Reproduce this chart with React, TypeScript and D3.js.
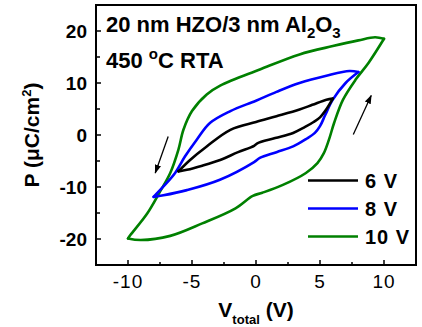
import * as d3 from "d3";

// P-V loops, [V, P] pairs; "up" = sweeping down from +Vmax, "dn" = back up from -Vmax
const loop6Up: [number, number][] = [
  [6, 7], [5.5, 6.8], [4.4, 5.8], [3.4, 4.9], [1.6, 3.6], [0, 2.5], [-2.0, 1.0],
  [-3.85, -2.2], [-5.15, -4.8], [-6.06, -7],
];
const loop6Dn: [number, number][] = [
  [-6.06, -7], [-5.4, -6.7], [-4.2, -5.9], [-2.8, -4.8], [-1.4, -3.3], [-0.15, -2.1],
  [0.1, -1.6], [1.5, -0.6], [2.9, 0.4], [3.8, 1.5], [4.5, 2.5], [5.0, 3.4], [5.4, 4.6], [6, 7],
];
const loop8Up: [number, number][] = [
  [8, 12.1], [7.3, 12.3], [5.5, 11.4], [3.4, 10], [1.6, 8.3], [0, 6.6], [-2.0, 4.6],
  [-3.6, 2.3], [-4.63, -0.9], [-5.54, -4.1], [-6.32, -7.3], [-7.23, -9.9], [-8.0, -11.9],
];
const loop8Dn: [number, number][] = [
  [-8.0, -11.9], [-7.23, -11.6], [-5.4, -10.6], [-2.82, -8.6], [-0.15, -5.2],
  [0.3, -4.4], [1.6, -3.3], [2.9, -2.2], [3.9, -0.8], [4.6, 0.4], [5.0, 1.7], [5.4, 3.8],
  [6, 6.8], [7, 10], [8, 12.1],
];
const loop10Up: [number, number][] = [
  [10, 18.5], [9.3, 18.8], [8, 18.2], [6, 17.1], [3.4, 15.5], [0.3, 12.6], [-2.8, 9.5],
  [-3.85, 7.8], [-5.0, 4.6], [-5.67, 1.0], [-6.06, -2.8], [-6.7, -7.3], [-7.48, -10.8],
  [-8.5, -15.1], [-9.8, -19.2], [-10, -19.9],
];
const loop10Dn: [number, number][] = [
  [-10, -19.9], [-9.0, -20.2], [-6.7, -19.4], [-4.2, -17.0], [-1.6, -14.1], [-0.25, -11.7],
  [0.5, -11.1], [2.1, -9.6], [3.9, -7.3], [4.8, -5.4], [5.3, -3.5], [5.7, -0.9], [6.1, 2.3],
  [6.8, 6.8], [7.8, 10.7], [8.8, 13.9], [10, 18.5],
];

const legendLabels = ["6 V", "8 V", "10 V"];
const legendColors = ["#000000", "#0000ff", "#008000"];
const xTicks = [-10, -5, 0, 5, 10];
const yTicks = [-20, -10, 0, 10, 20];
// sweep-direction arrows, [from, to] in data units
const arrows: [number, number][][] = [
  [[-6.86, -0.3], [-7.87, -7.3]],
  [[7.6, 0.1], [9.0, 7.6]],
];

const W = 422;
const H = 327;
const margin = { top: 5, right: 6, bottom: 62, left: 96 };
const font = "'Liberation Sans', Arial, sans-serif";

export default function App() {
  const innerW = W - margin.left - margin.right;
  const innerH = H - margin.top - margin.bottom;
  const x = d3.scaleLinear().domain([-12.5, 12.5]).range([0, innerW]);
  const y = d3.scaleLinear().domain([-25, 25]).range([innerH, 0]);

  const line = d3
    .line<[number, number]>()
    .x((d) => x(d[0]))
    .y((d) => y(d[1]))
    .curve(d3.curveCatmullRom.alpha(0.5));

  const series = [
    { color: legendColors[2], parts: [loop10Up, loop10Dn] },
    { color: legendColors[1], parts: [loop8Up, loop8Dn] },
    { color: legendColors[0], parts: [loop6Up, loop6Dn] },
  ];

  const xMinor = d3.range(-12.5, 12.6, 2.5).filter((v) => !xTicks.includes(v) && v > -12.5 && v < 12.5);
  const yMinor = d3.range(-25, 26, 5).filter((v) => !yTicks.includes(v) && v > -25 && v < 25);

  return (
    <svg
      width={W}
      height={H}
      style={{ position: "absolute", left: 0, top: 0, background: "#fff" }}
      fontFamily={font}
    >
      <defs>
        <marker id="ah" viewBox="0 0 10 10" refX="9" refY="5" markerWidth="7" markerHeight="7" orient="auto">
          <path d="M0,1.5 L10,5 L0,8.5 Z" fill="#000" />
        </marker>
      </defs>
      <g transform={`translate(${margin.left},${margin.top})`}>
        {series.map((s, i) =>
          s.parts.map((p, j) => (
            <path
              key={`${i}-${j}`}
              d={line(p) ?? ""}
              fill="none"
              stroke={s.color}
              strokeWidth={2.6}
              strokeLinejoin="round"
              strokeLinecap="round"
            />
          ))
        )}

        {arrows.map((a, i) => (
          <line
            key={i}
            x1={x(a[0][0])}
            y1={y(a[0][1])}
            x2={x(a[1][0])}
            y2={y(a[1][1])}
            stroke="#000"
            strokeWidth={1.3}
            markerEnd="url(#ah)"
          />
        ))}

        {/* ticks, pointing inward */}
        {xTicks.map((t) => (
          <line key={`xt${t}`} x1={x(t)} x2={x(t)} y1={innerH} y2={innerH - 5} stroke="#000" strokeWidth={1.5} />
        ))}
        {xMinor.map((t) => (
          <line key={`xm${t}`} x1={x(t)} x2={x(t)} y1={innerH} y2={innerH - 3} stroke="#000" strokeWidth={1.5} />
        ))}
        {yTicks.map((t) => (
          <line key={`yt${t}`} x1={0} x2={5} y1={y(t)} y2={y(t)} stroke="#000" strokeWidth={1.5} />
        ))}
        {yMinor.map((t) => (
          <line key={`ym${t}`} x1={0} x2={4} y1={y(t)} y2={y(t)} stroke="#000" strokeWidth={1.5} />
        ))}

        <rect x={0} y={0} width={innerW} height={innerH} fill="none" stroke="#000" strokeWidth={2} />

        {xTicks.map((t) => (
          <text key={`xl${t}`} x={x(t)} y={innerH + 23} textAnchor="middle" fontSize={19} letterSpacing={1}>
            {t}
          </text>
        ))}
        {yTicks.map((t) => (
          <text key={`yl${t}`} x={-9} y={y(t) + 6.5} textAnchor="end" fontSize={19} fontWeight="bold">
            {t}
          </text>
        ))}

        {/* annotations */}
        <text x={10} y={27} fontSize={22} fontWeight="bold">
          20 nm HZO/3 nm Al
          <tspan fontSize={15} dy={6}>2</tspan>
          <tspan dy={-6}>O</tspan>
          <tspan fontSize={15} dy={6}>3</tspan>
        </text>
        <text x={10} y={63} fontSize={22} fontWeight="bold">
          450 <tspan fontSize={15} dy={-9}>o</tspan>
          <tspan dy={9}>C RTA</tspan>
        </text>

        {/* legend */}
        {legendLabels.map((l, i) => (
          <g key={l} transform={`translate(212,${175.5 + i * 28})`}>
            <line x1={0} x2={50} y1={0} y2={0} stroke={legendColors[i]} strokeWidth={2.6} />
            <text x={57} y={7.5} fontSize={20} fontWeight="bold" letterSpacing={1}>
              {l}
            </text>
          </g>
        ))}
      </g>

      <text x={margin.left + innerW / 2} y={317} textAnchor="middle" fontSize={21} fontWeight="bold">
        V<tspan fontSize={13} dy={7}>total</tspan>
        <tspan dy={-7}> (V)</tspan>
      </text>
      <text
        transform={`translate(38.5,${margin.top + innerH / 2}) rotate(-90)`}
        textAnchor="middle"
        fontSize={21}
        fontWeight="bold"
      >
        P (μC/cm<tspan fontSize={13} dy={-8}>2</tspan>
        <tspan dy={8}>)</tspan>
      </text>
    </svg>
  );
}
